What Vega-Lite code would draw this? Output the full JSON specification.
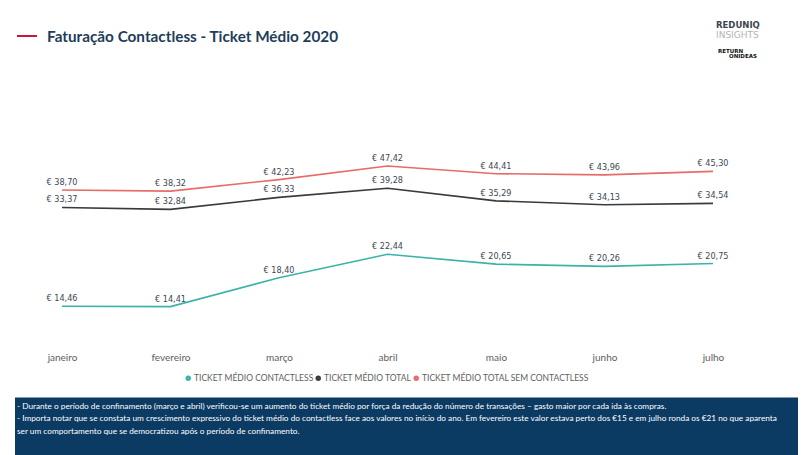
{
  "$schema": "https://vega.github.io/schema/vega-lite/v6.json",
  "background": "white",
  "padding": {"left": 15, "top": 0, "right": 0, "bottom": 0},
  "autosize": {"type": "pad"},
  "bounds": "flush",
  "spacing": 47.8,
  "resolve": {"legend": {"color": "independent"}},
  "config": {
    "view": {"stroke": null},
    "locale": {
      "number": {"decimal": ",", "thousands": ".", "grouping": [3], "currency": ["€ ", ""]}
    }
  },
  "vconcat": [
    {
      "width": 783,
      "height": 30,
      "data": {"values": [{
        "titulo": "Faturação Contactless - Ticket Médio 2020",
        "marca": "REDUNIQ",
        "submarca": "INSIGHTS",
        "lema1": "RETURN",
        "lema2": "ONIDEAS"
      }]},
      "layer": [
        {
          "mark": {"type": "rule", "color": "#c8193c", "strokeWidth": 2},
          "encoding": {
            "x": {"datum": 2, "scale": {"domain": [0, 783], "range": [0, 783], "nice": false, "zero": false}, "axis": null},
            "x2": {"datum": 22},
            "y": {"datum": 36, "scale": {"domain": [0, 60], "range": [0, 60], "nice": false, "zero": false}, "axis": null}
          }
        },
        {
          "mark": {"type": "text", "align": "left", "baseline": "middle", "font": "Lato", "fontWeight": "bold", "fontSize": 15.3, "color": "#1e3d5a"},
          "encoding": {
            "x": {"datum": 32},
            "y": {"datum": 37},
            "text": {"field": "titulo"}
          }
        },
        {
          "mark": {"type": "text", "align": "left", "baseline": "middle", "font": "DejaVu Sans", "fontWeight": "bold", "fontSize": 8.5, "color": "#3b4550", "letterSpacing": 1},
          "encoding": {
            "x": {"datum": 701},
            "y": {"datum": 24.5},
            "text": {"field": "marca"}
          }
        },
        {
          "mark": {"type": "text", "align": "left", "baseline": "middle", "font": "DejaVu Sans", "fontSize": 9, "color": "#b3b3b3", "letterSpacing": 0.6},
          "encoding": {
            "x": {"datum": 701},
            "y": {"datum": 35},
            "text": {"field": "submarca"}
          }
        },
        {
          "mark": {"type": "text", "align": "left", "baseline": "middle", "font": "DejaVu Sans", "fontWeight": "bold", "fontSize": 5.5, "color": "#111111"},
          "encoding": {
            "x": {"datum": 703},
            "y": {"datum": 51},
            "text": {"field": "lema1"}
          }
        },
        {
          "mark": {"type": "text", "align": "left", "baseline": "middle", "font": "DejaVu Sans", "fontWeight": "bold", "fontSize": 5.5, "color": "#111111"},
          "encoding": {
            "x": {"datum": 714},
            "y": {"datum": 56},
            "text": {"field": "lema2"}
          }
        }
      ]
    },
    {
      "width": 745,
      "height": 272,
      "data": {"values": [
        {"mes": "janeiro", "serie": "TICKET MÉDIO CONTACTLESS", "valor": 14.46},
        {"mes": "fevereiro", "serie": "TICKET MÉDIO CONTACTLESS", "valor": 14.41},
        {"mes": "março", "serie": "TICKET MÉDIO CONTACTLESS", "valor": 18.40},
        {"mes": "abril", "serie": "TICKET MÉDIO CONTACTLESS", "valor": 22.44},
        {"mes": "maio", "serie": "TICKET MÉDIO CONTACTLESS", "valor": 20.65},
        {"mes": "junho", "serie": "TICKET MÉDIO CONTACTLESS", "valor": 20.26},
        {"mes": "julho", "serie": "TICKET MÉDIO CONTACTLESS", "valor": 20.75},
        {"mes": "janeiro", "serie": "TICKET MÉDIO TOTAL", "valor": 33.37},
        {"mes": "fevereiro", "serie": "TICKET MÉDIO TOTAL", "valor": 32.84},
        {"mes": "março", "serie": "TICKET MÉDIO TOTAL", "valor": 36.33},
        {"mes": "abril", "serie": "TICKET MÉDIO TOTAL", "valor": 39.28},
        {"mes": "maio", "serie": "TICKET MÉDIO TOTAL", "valor": 35.29},
        {"mes": "junho", "serie": "TICKET MÉDIO TOTAL", "valor": 34.13},
        {"mes": "julho", "serie": "TICKET MÉDIO TOTAL", "valor": 34.54},
        {"mes": "janeiro", "serie": "TICKET MÉDIO TOTAL SEM CONTACTLESS", "valor": 38.70},
        {"mes": "fevereiro", "serie": "TICKET MÉDIO TOTAL SEM CONTACTLESS", "valor": 38.32},
        {"mes": "março", "serie": "TICKET MÉDIO TOTAL SEM CONTACTLESS", "valor": 42.23},
        {"mes": "abril", "serie": "TICKET MÉDIO TOTAL SEM CONTACTLESS", "valor": 47.42},
        {"mes": "maio", "serie": "TICKET MÉDIO TOTAL SEM CONTACTLESS", "valor": 44.41},
        {"mes": "junho", "serie": "TICKET MÉDIO TOTAL SEM CONTACTLESS", "valor": 43.96},
        {"mes": "julho", "serie": "TICKET MÉDIO TOTAL SEM CONTACTLESS", "valor": 45.30}
      ]},
      "encoding": {
        "x": {
          "field": "mes",
          "type": "ordinal",
          "sort": ["janeiro", "fevereiro", "março", "abril", "maio", "junho", "julho"],
          "scale": {"type": "point", "padding": 0.4332},
          "axis": {
            "title": null,
            "domain": false,
            "ticks": false,
            "grid": false,
            "labelAngle": 0,
            "labelPadding": 3,
            "labelFont": "Lato",
            "labelFontSize": 10,
            "labelColor": "#606060"
          }
        },
        "y": {
          "field": "valor",
          "type": "quantitative",
          "scale": {"type": "log", "domain": [10, 100], "nice": false},
          "axis": null
        }
      },
      "layer": [
        {
          "mark": {"type": "line", "strokeWidth": 1.6, "strokeJoin": "round"},
          "encoding": {
            "color": {
              "field": "serie",
              "type": "nominal",
              "scale": {
                "domain": ["TICKET MÉDIO CONTACTLESS", "TICKET MÉDIO TOTAL", "TICKET MÉDIO TOTAL SEM CONTACTLESS"],
                "range": ["#3bb3a6", "#3a3a3a", "#e66b69"]
              },
              "legend": {
                "title": null,
                "orient": "none",
                "direction": "horizontal",
                "legendX": 169,
                "legendY": 296,
                "padding": 0,
                "symbolType": "circle",
                "symbolSize": 6,
                "symbolStrokeWidth": 3,
                "labelOffset": 1.5,
                "columnPadding": -5,
                "labelFont": "Lato",
                "labelFontSize": 8.5,
                "labelColor": "#606060",
                "labelLimit": 400
              }
            }
          }
        },
        {
          "mark": {"type": "text", "align": "center", "baseline": "alphabetic", "dy": -5, "font": "DejaVu Sans Condensed", "fontSize": 9, "color": "#3e4753", "letterSpacing": 0.3},
          "encoding": {
            "text": {"field": "valor", "type": "quantitative", "format": "$.2f"}
          }
        }
      ]
    },
    {
      "width": 783,
      "height": 60,
      "view": {"fill": "#0b3a62", "stroke": null},
      "data": {"values": [
        {"linha": 1, "texto": "- Durante o período de confinamento (março e abril) verificou-se um aumento do ticket médio por força da redução do número de transações – gasto maior por cada ida às compras."},
        {"linha": 2, "texto": "- Importa notar que se constata um crescimento expressivo do ticket médio do contactless face aos valores no início do ano. Em fevereiro este valor estava perto dos €15 e em julho ronda os €21 no que aparenta"},
        {"linha": 3, "texto": "ser um comportamento que se democratizou após o período de confinamento."}
      ]},
      "mark": {"type": "text", "align": "left", "baseline": "middle", "font": "Lato", "fontSize": 8.25, "color": "#ffffff"},
      "encoding": {
        "x": {"datum": 0, "scale": {"domain": [0, 1], "range": [2, 783], "nice": false, "zero": false}, "axis": null},
        "y": {"field": "linha", "type": "ordinal", "scale": {"type": "point", "range": [9, 34], "padding": 0}, "axis": null},
        "text": {"field": "texto"}
      }
    }
  ]
}
